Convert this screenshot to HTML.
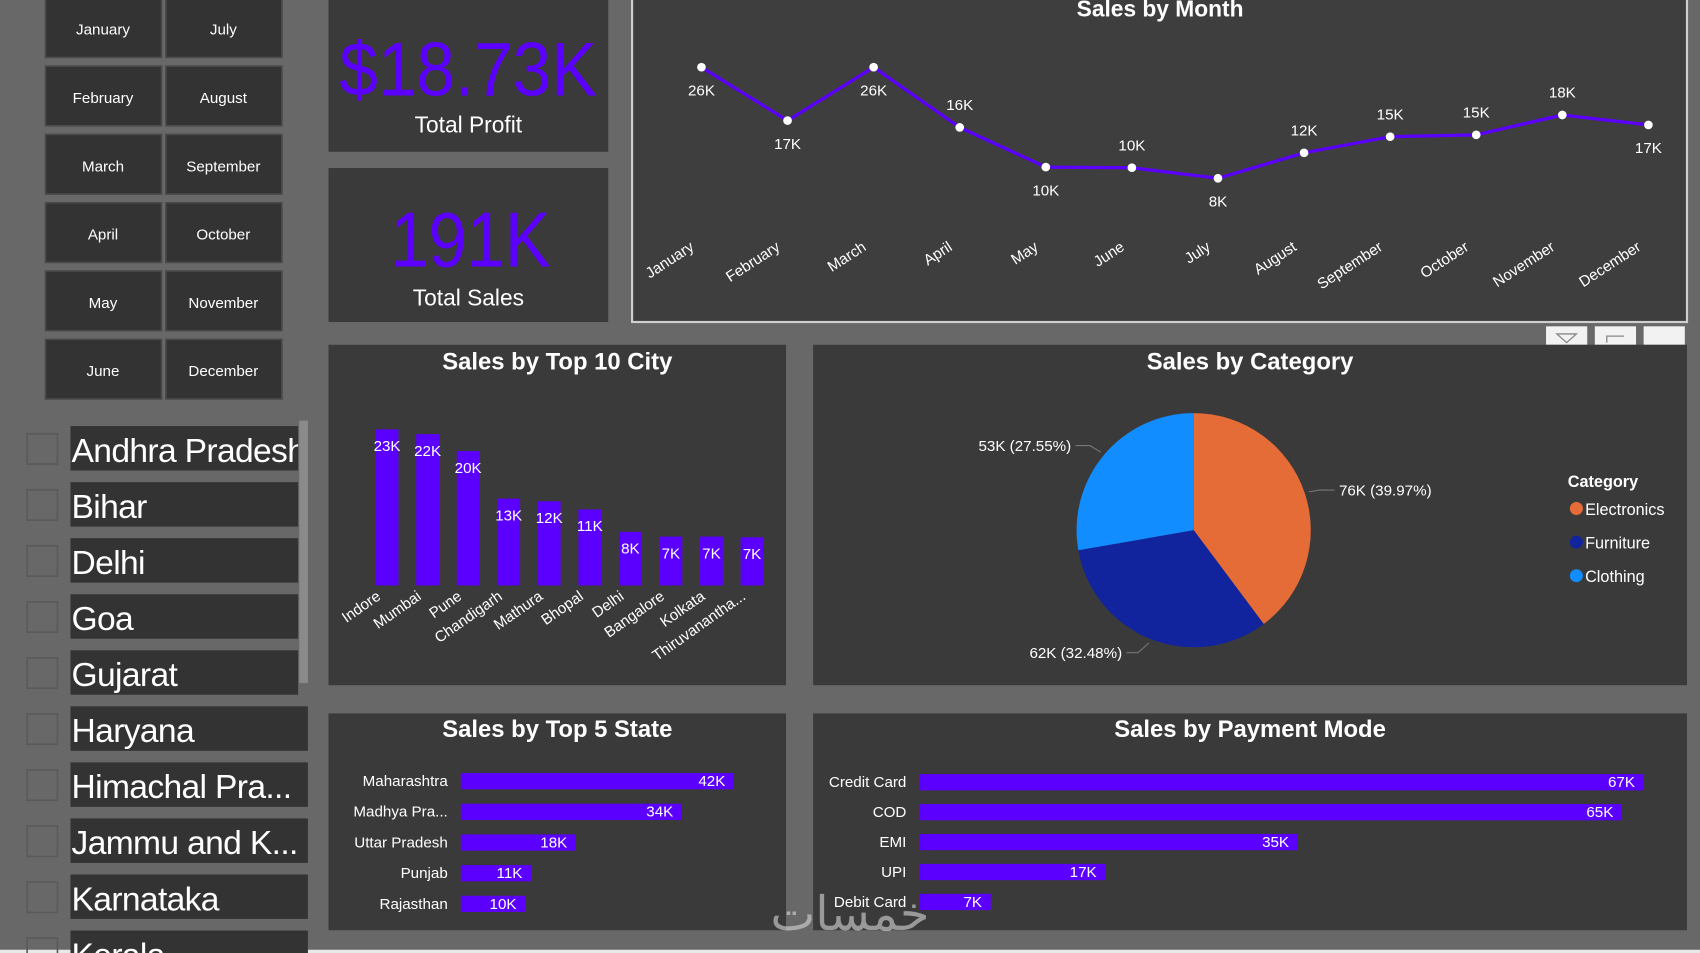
<!DOCTYPE html>
<html><head><meta charset="utf-8"><style>
html,body{margin:0;padding:0;background:#686868;overflow:hidden}
svg{display:block}
text{font-family:"Liberation Sans","Noto Sans CJK SC",sans-serif}
</style></head><body>
<svg id="s" width="1700" height="953" viewBox="0 0 1568 879" xmlns="http://www.w3.org/2000/svg">
<defs id="defs"></defs>
<rect x="0" y="0" width="1568" height="879" fill="#686868"/>
<rect x="0" y="876" width="1568" height="3" fill="#e8e8e8"/>
<g id="months"></g>
<g id="states"></g>
<rect x="276" y="388" width="8" height="242" fill="#8a8a8a"/>

<g>
<rect x="303" y="0" width="258" height="140" fill="#3b3a3b"/>
<text x="432" y="88" text-anchor="middle" font-size="70" fill="#5b00ff" textLength="238" lengthAdjust="spacingAndGlyphs">$18.73K</text>
<text x="432" y="122" text-anchor="middle" font-size="21" fill="#fff">Total Profit</text>
</g>
<g>
<rect x="303" y="155" width="258" height="142" fill="#3b3a3b"/>
<text x="434" y="246" text-anchor="middle" font-size="72" fill="#5b00ff" textLength="148" lengthAdjust="spacingAndGlyphs">191K</text>
<text x="432" y="282" text-anchor="middle" font-size="21" fill="#fff">Total Sales</text>
</g>

<g id="lineCard">
<rect x="583" y="-2" width="973" height="299" fill="#3f3e3f" stroke="#cfcfcf" stroke-width="2"/>
<text x="1070" y="15" text-anchor="middle" font-size="21" font-weight="bold" fill="#fff">Sales by Month</text>
</g>
<g>
<rect x="1426" y="301" width="38" height="17" fill="#f2f2f2"/>
<path d="M1436 308 L1454 308 L1445 316 Z" fill="none" stroke="#888" stroke-width="1.2"/>
<rect x="1471" y="301" width="38" height="17" fill="#f2f2f2"/>
<path d="M1482 316 L1482 310 L1498 310" fill="none" stroke="#888" stroke-width="1.2"/>
<rect x="1516" y="301" width="38" height="17" fill="#f2f2f2"/>
</g>

<g id="cityCard">
<rect x="303" y="318" width="422" height="314" fill="#3b3a3b"/>
<text x="514" y="341" text-anchor="middle" font-size="22" font-weight="bold" fill="#fff">Sales by Top 10 City</text>
</g>
<g id="catCard">
<rect x="750" y="318" width="806" height="314" fill="#3b3a3b"/>
<text x="1153" y="341" text-anchor="middle" font-size="22" font-weight="bold" fill="#fff">Sales by Category</text>
<text x="1446" y="449" font-size="15" font-weight="bold" fill="#fff">Category</text>
</g>
<g id="stateCard">
<rect x="303" y="658" width="422" height="200" fill="#3b3a3b"/>
<text x="514" y="680" text-anchor="middle" font-size="22" font-weight="bold" fill="#fff">Sales by Top 5 State</text>
</g>
<g id="payCard">
<rect x="750" y="658" width="806" height="200" fill="#3b3a3b"/>
<text x="1153" y="680" text-anchor="middle" font-size="22" font-weight="bold" fill="#fff">Sales by Payment Mode</text>
</g>
<text x="784" y="858" text-anchor="middle" font-size="44" fill="#d8d8d8" opacity="0.6" font-family="'DejaVu Sans',sans-serif">خمسات</text>
</svg>
<script>
const NS="http://www.w3.org/2000/svg";
const monthsLeft=["January","February","March","April","May","June"];
const monthsRight=["July","August","September","October","November","December"];
const stateNames=["Andhra Pradesh","Bihar","Delhi","Goa","Gujarat","Haryana","Himachal Pra...","Jammu and K...","Karnataka","Kerala"];
const lineMonths=["January","February","March","April","May","June","July","August","September","October","November","December"];
const lineValues=[26,17.4,26,16.3,9.9,9.8,8.1,12.2,14.8,15.1,18.3,16.7];
const lineLabels=["26K","17K","26K","16K","10K","10K","8K","12K","15K","15K","18K","17K"];
const lineLabelBelow=[1,1,1,0,1,0,1,0,0,0,0,1];
const cities=["Indore","Mumbai","Pune","Chandigarh","Mathura","Bhopal","Delhi","Bangalore","Kolkata","Thiruvanantha..."];
const cityValues=[23,22.3,19.8,12.8,12.4,11.2,7.9,7.2,7.2,7.1];
const cityLabels=["23K","22K","20K","13K","12K","11K","8K","7K","7K","7K"];
const categories=["Electronics","Furniture","Clothing"];
const categoryValues=[76,62,53];
const categoryLabels=["76K (39.97%)","62K (32.48%)","53K (27.55%)"];
const categoryColors=["#e66c37","#12239e","#118dff"];
const topStates=["Maharashtra","Madhya Pra...","Uttar Pradesh","Punjab","Rajasthan"];
const topStateValues=[42,34,17.7,10.8,9.9];
const topStateLabels=["42K","34K","18K","11K","10K"];
const payModes=["Credit Card","COD","EMI","UPI","Debit Card"];
const payValues=[67,65,35,17.2,6.6];
const payLabels=["67K","65K","35K","17K","7K"];

function mk(tag,attrs,parent,txt){const e=document.createElementNS(NS,tag);for(const k in attrs)e.setAttribute(k,attrs[k]);if(txt!=null)e.textContent=txt;parent.appendChild(e);return e;}
const BAR="#5b00ff";
const defs=document.getElementById("defs");

// month slicer
const mg=document.getElementById("months");
for(let i=0;i<6;i++){
  [[42,monthsLeft[i]],[153,monthsRight[i]]].forEach(([x,m])=>{
    const y=i*63;
    const r=mk("rect",{x:x,y:y-2,width:107,height:55,fill:"#333",stroke:"#4a4a4a","stroke-width":1.5},mg);
    
    
    const t=mk("text",{x:x+53,y:y+32,"text-anchor":"middle","font-size":14,fill:"#fff"},mg,m);
    
    
  });
}
// state slicer
const sg=document.getElementById("states");
stateNames.forEach((n,i)=>{
  const y=393+i*51.7;
  const w=i<5?210:219;
  const cp=mk("clipPath",{id:"cp"+i},defs);
  mk("rect",{x:65,y:y,width:w,height:41},cp);
  const cb=mk("rect",{x:25,y:y+7,width:28,height:28,fill:"none",stroke:"#5a5a5a","stroke-width":1.5},sg);
  
  
  const r=mk("rect",{x:65,y:y,width:w,height:41,fill:"#333"},sg);
  
  
  const t=mk("text",{x:66,y:y+33,"font-size":31,fill:"#fff","clip-path":"url(#cp"+i+")","letter-spacing":"-0.6"},sg,n);
  
  
});

// line chart
const lc=document.getElementById("lineCard");
const lx=i=>647+i*79.4;
const ly=v=>165-(v-8)*(103/18);
let d="";lineValues.forEach((v,i)=>{d+=(i?"L":"M")+lx(i)+" "+ly(v)+" ";});
const path=mk("path",{d:d,fill:"none",stroke:BAR,"stroke-width":3},lc);


lineValues.forEach((v,i)=>{
  const c=mk("circle",{cx:lx(i),cy:ly(v),r:4,fill:"#fff"},lc);
  
  
  const t=mk("text",{x:lx(i),y:ly(v)+(lineLabelBelow[i]?26:-16),"text-anchor":"middle","font-size":14,fill:"#fff"},lc,lineLabels[i]);
  
  
  const a=mk("text",{x:lx(i)-6,y:230,"text-anchor":"end","font-size":14,fill:"#fff",transform:"rotate(-33 "+(lx(i)-6)+" 230)"},lc,lineMonths[i]);
  
  
});

// city chart
const cc=document.getElementById("cityCard");
const cx=i=>357+i*37.4;
const ch=v=>v*6.26;
cityValues.forEach((v,i)=>{
  const b=mk("rect",{x:cx(i)-10.5,y:540-ch(v),width:21,height:ch(v),fill:BAR},cc);
  
  
  const t=mk("text",{x:cx(i),y:540-ch(v)+20,"text-anchor":"middle","font-size":14,fill:"#fff"},cc,cityLabels[i]);
  
  
  const a=mk("text",{x:cx(i)-5,y:552,"text-anchor":"end","font-size":14,fill:"#fff",transform:"rotate(-35 "+(cx(i)-5)+" 552)"},cc,cities[i]);
  
  
});

// pie
const pc=document.getElementById("catCard");
const PX=1101,PY=489,R=108;
const tot=categoryValues.reduce((a,b)=>a+b,0);
let ang=-Math.PI/2;
const labelPos=[[1235,457,"start"],[1035,607,"end"],[988,416,"end"]];
categoryValues.forEach((v,i)=>{
  const a2=ang+v/tot*2*Math.PI;
  const x1=PX+R*Math.cos(ang),y1=PY+R*Math.sin(ang),x2=PX+R*Math.cos(a2),y2=PY+R*Math.sin(a2);
  const big=(a2-ang)>Math.PI?1:0;
  const s=mk("path",{d:`M${PX} ${PY} L${x1} ${y1} A${R} ${R} 0 ${big} 1 ${x2} ${y2} Z`,fill:categoryColors[i]},pc);
  
  
  const mid=(ang+a2)/2;
  const ex=PX+(R+4)*Math.cos(mid),ey=PY+(R+4)*Math.sin(mid);
  const lp=labelPos[i];
  const ln=mk("polyline",{points:`${ex},${ey} ${ex+(lp[2]=="start"?10:-10)},${lp[1]-5} ${lp[0]+(lp[2]=="start"?-4:4)},${lp[1]-5}`,fill:"none",stroke:"#777","stroke-width":1},pc);
  
  
  const t=mk("text",{x:lp[0],y:lp[1],"text-anchor":lp[2],"font-size":14,fill:"#fff"},pc,categoryLabels[i]);
  
  
  const dot=mk("circle",{cx:1454,cy:469+i*31,r:6,fill:categoryColors[i]},pc);
  
  
  const lt=mk("text",{x:1462,y:475+i*31,"font-size":15,fill:"#fff"},pc,categories[i]);
  
  
  ang=a2;
});

// horizontal bars
function hbars(g,names,vals,labels,x0,k,y0,step,labelX){
  names.forEach((n,i)=>{
    const y=y0+i*step;
    const b=mk("rect",{x:x0,y:y-7,width:vals[i]*k,height:15,fill:BAR},g);
    
    
    const v=mk("text",{x:x0+vals[i]*k-8,y:y+5,"text-anchor":"end","font-size":14,fill:"#fff"},g,labels[i]);
    
    
    const t=mk("text",{x:labelX,y:y+5,"text-anchor":"end","font-size":14,fill:"#fff"},g,n);
    
    
  });
}
hbars(document.getElementById("stateCard"),topStates,topStateValues,topStateLabels,425,6.0,720,28.3,413);
hbars(document.getElementById("payCard"),payModes,payValues,payLabels,848,9.97,721,27.6,836);
</script>
</body></html>
